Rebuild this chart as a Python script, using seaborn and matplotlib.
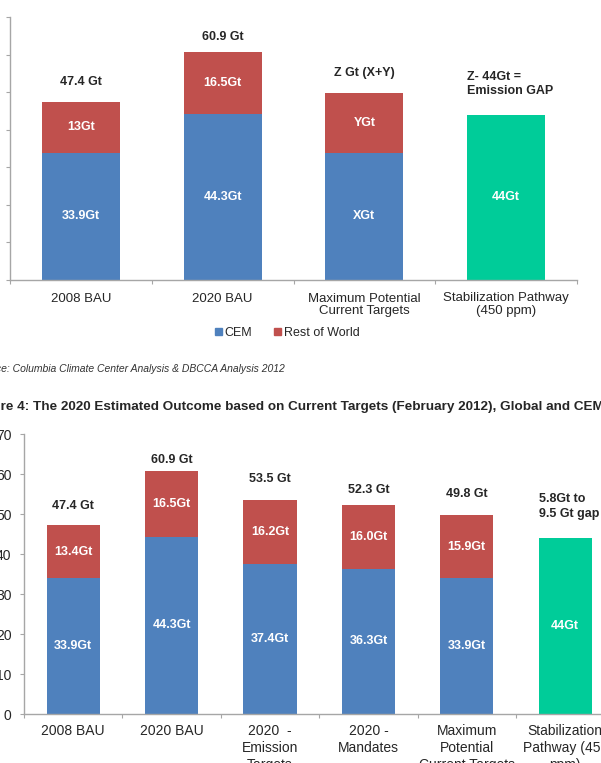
import matplotlib
matplotlib.use('Agg')
import matplotlib.pyplot as plt
from matplotlib.patches import Patch
import seaborn as sns
import numpy as np
import pandas as pd

sns.set_style('ticks')
plt.rcParams['font.family'] = ['Liberation Sans', 'DejaVu Sans']

BLUE = '#4F81BD'
RED = '#C0504D'
GREEN = '#00CC99'
GREY = '#A6A6A6'

# upper chart (only partly visible on the page)
top_cats = ['2008 BAU', '2020 BAU', 'Maximum Potential\nCurrent Targets',
            'Stabilization Pathway\n(450 ppm)']
top_cem = [33.9, 44.3, 33.9, 44.0]
top_row = [13.5, 16.5, 15.9, 0.0]
top_cem_txt = ['33.9Gt', '44.3Gt', 'XGt', '44Gt']
top_row_txt = ['13Gt', '16.5Gt', 'YGt', '']
top_notes = ['47.4 Gt', '60.9 Gt', 'Z Gt (X+Y)', 'Z- 44Gt =\nEmission GAP']
top_note_y = [52.7, 64.7, 55.1, 52.2]

# figure 4
bot_cats = ['2008 BAU', '2020 BAU', '2020  -\nEmission\nTargets', '2020 -\nMandates',
            'Maximum\nPotential\nCurrent Targets', 'Stabilization\nPathway (450\nppm)']
bot_cem = [33.9, 44.3, 37.4, 36.3, 33.9, 44.0]
bot_row = [13.4, 16.5, 16.2, 16.0, 15.9, 0.0]
bot_cem_txt = ['33.9Gt', '44.3Gt', '37.4Gt', '36.3Gt', '33.9Gt', '44Gt']
bot_row_txt = ['13.4Gt', '16.5Gt', '16.2Gt', '16.0Gt', '15.9Gt', '']
bot_notes = ['47.4 Gt', '60.9 Gt', '53.5 Gt', '52.3 Gt', '49.8 Gt', '5.8Gt to\n9.5 Gt gap']
bot_note_y = [52.0, 63.5, 58.75, 56.0, 55.0, 51.9]


def stacked(ax, cats, cem, row, cem_txt, row_txt, notes, note_y, width, fs, ls):
    n = len(cats)
    df = pd.DataFrame({'cat': cats, 'cem': cem, 'row': row})
    df['total'] = df['cem'] + df['row']
    pal_top = [RED] * (n - 1) + [GREEN]
    pal_low = [BLUE] * (n - 1) + [GREEN]
    sns.barplot(data=df, x='cat', y='total', hue='cat', palette=pal_top, width=width,
                saturation=1, legend=False, linewidth=0, ax=ax)
    sns.barplot(data=df, x='cat', y='cem', hue='cat', palette=pal_low, width=width,
                saturation=1, legend=False, linewidth=0, ax=ax)
    for i in range(n):
        ax.text(i, cem[i] / 2, cem_txt[i], ha='center', va='center', color='white',
                fontsize=9, fontweight='bold')
        if row_txt[i]:
            ax.text(i, cem[i] + row[i] / 2, row_txt[i], ha='center', va='center',
                    color='white', fontsize=9, fontweight='bold')
        if i == n - 1:
            ax.text(i - width / 2, note_y[i], notes[i], ha='left', va='center',
                    fontsize=9, fontweight='bold', linespacing=1.3)
        else:
            ax.text(i, note_y[i], notes[i], ha='center', va='center',
                    fontsize=9, fontweight='bold')

    ax.set_ylim(0, 70)
    ax.set_yticks(range(0, 80, 10))
    ax.set_xlim(-0.5, n - 0.5)
    ax.set_xticks(np.arange(-0.5, n, 1))
    ax.set_xticklabels([])
    ax.set_xticks(range(n), minor=True)
    ax.set_xticklabels(cats, minor=True, fontsize=fs, linespacing=ls)
    ax.tick_params(axis='x', which='major', direction='out', length=3, color=GREY)
    ax.tick_params(axis='x', which='minor', length=0)
    ax.tick_params(axis='y', direction='out', length=3, color=GREY, labelsize=10, pad=6)
    ax.set_xlabel('')
    ax.set_ylabel('')
    sns.despine(ax=ax)
    for s in ['left', 'bottom']:
        ax.spines[s].set_color(GREY)
        ax.spines[s].set_linewidth(1)


fig = plt.figure(figsize=(6.01, 7.63), dpi=100)

ax1 = fig.add_axes([10 / 601, 483 / 763, 567 / 601, 263 / 763])
stacked(ax1, top_cats, top_cem, top_row, top_cem_txt, top_row_txt,
        top_notes, top_note_y, 0.55, 9.5, 1.1)
ax1.tick_params(axis='x', which='minor', pad=9)
ax1.set_yticklabels([])

handles = [Patch(color=BLUE, label='CEM'), Patch(color=RED, label='Rest of World')]
fig.legend(handles=handles, loc='center', bbox_to_anchor=(287 / 601, 1 - 333 / 763),
           ncol=2, frameon=False, handlelength=0.55, handleheight=0.55, handletextpad=0.2,
           columnspacing=1.8, fontsize=9)

fig.text(-26 / 601, 1 - 369 / 763,
         'Source: Columbia Climate Center Analysis & DBCCA Analysis 2012',
         fontsize=7.5, style='italic', color='#333333', ha='left', va='center')
fig.text(-28 / 601, 1 - 407 / 763,
         'Figure 4: The 2020 Estimated Outcome based on Current Targets (February 2012), '
         'Global and CEM Countries',
         fontsize=9.7, fontweight='bold', ha='left', va='center')

ax2 = fig.add_axes([24 / 601, 49 / 763, 590.4 / 601, 280 / 763])
stacked(ax2, bot_cats, bot_cem, bot_row, bot_cem_txt, bot_row_txt,
        bot_notes, bot_note_y, 0.54, 10, 1.3)
ax2.tick_params(axis='x', which='minor', pad=7)

fig.savefig('out.png', dpi=100)
